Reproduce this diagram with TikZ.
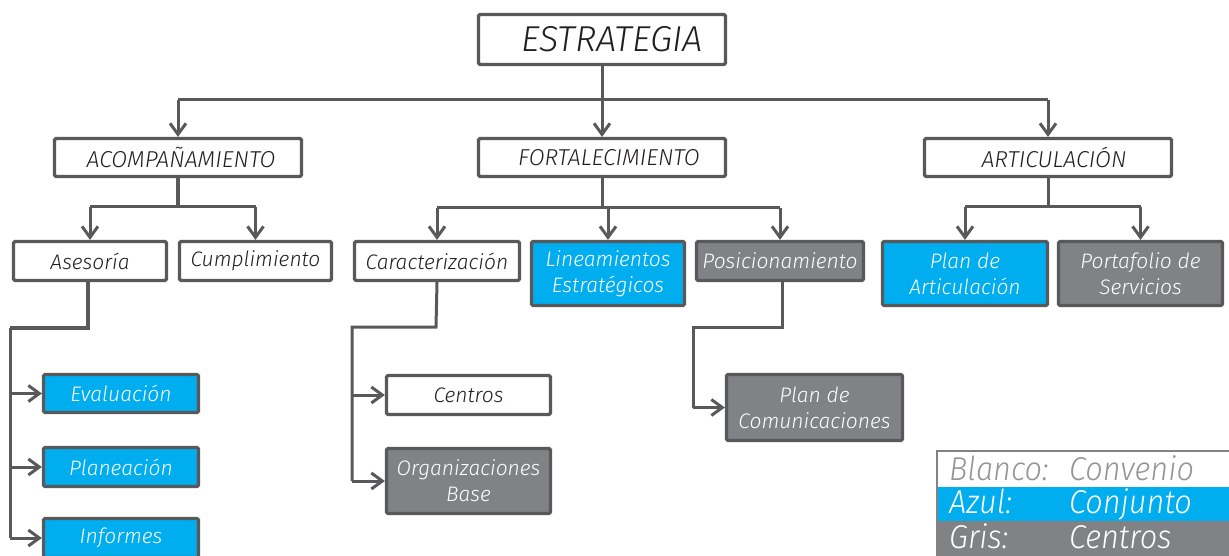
\documentclass[tikz,border=0pt]{standalone}
\usepackage{fontspec}
\setmainfont{Fira Sans}[UprightFont=* Light, ItalicFont=* Light Italic]
\newfontfamily\legfont{Fira Sans Light Italic}[FakeStretch=0.93]
\usetikzlibrary{arrows.meta}
\definecolor{lnc}{HTML}{58595B}
\definecolor{gfill}{HTML}{808285}
\definecolor{bfill}{HTML}{00AEEF}
\definecolor{txt}{HTML}{231F20}
\definecolor{legtxt}{HTML}{939598}
\tikzset{
  box/.style={draw=lnc, line width=3.2pt, rounded corners=1.5pt, inner sep=0pt, align=center,
    font=\itshape\fontsize{21}{26}\selectfont, text=txt, fill=white},
  wbox/.style={box},
  bbox/.style={box, fill=bfill, text=white},
  gbox/.style={box, fill=gfill, text=white},
  conn/.style={draw=lnc, line width=3pt},
  arr/.style={conn, -{Straight Barb[length=11pt,width=16pt]}},
  legtext/.style={anchor=base west, inner sep=0pt, font=\legfont\fontsize{33}{36}\selectfont},
}
\begin{document}
\begin{tikzpicture}[x=1pt,y=-1pt]
\useasboundingbox (0,0) rectangle (1229,556);
% top
\node[wbox, minimum width=247pt, minimum height=50pt, font=\itshape\fontsize{36}{40}\selectfont] (E) at (602,39.5) {\hspace*{20pt}ESTRATEGIA};
\node[wbox, minimum width=247pt, minimum height=38pt, font=\itshape\fontsize{23}{27}\selectfont] (A1) at (178,157.5) {\hspace*{6pt}ACOMPAÑAMIENTO};
\node[wbox, minimum width=247pt, minimum height=38pt, font=\itshape\fontsize{23}{27}\selectfont] (F1) at (602,157.5) {\hspace*{14pt}FORTALECIMIENTO};
\node[wbox, minimum width=247pt, minimum height=38pt, font=\itshape\fontsize{23}{27}\selectfont] (R1) at (1048,157.5) {\hspace*{12pt}ARTICULACIÓN};
% second level
\node[wbox, minimum width=153pt, minimum height=39pt] (As) at (90,261) {Asesoría};
\node[wbox, minimum width=152pt, minimum height=39pt] (Cu) at (255.5,261) {Cumplimiento};
\node[wbox, minimum width=165pt, minimum height=39pt] (Ca) at (437,261) {Caracterización};
\node[bbox, minimum width=153pt, minimum height=64pt] (Li) at (608,273.5) {Lineamientos\\Estratégicos};
\node[gbox, minimum width=167pt, minimum height=39pt] (Po) at (780,261) {Posicionamiento};
\node[bbox, minimum width=165pt, minimum height=64pt] (PA) at (965,273.5) {Plan de\\Articulación};
\node[gbox, minimum width=164pt, minimum height=64pt] (PS) at (1140.5,273.5) {Portafolio de\\Servicios};
% third level
\node[bbox, minimum width=155pt, minimum height=38pt] (Ev) at (121,393.5) {Evaluación};
\node[bbox, minimum width=155pt, minimum height=39pt] (Pl) at (121,467) {Planeación};
\node[bbox, minimum width=155pt, minimum height=39pt] (In) at (121,538) {Informes};
\node[wbox, minimum width=164pt, minimum height=39pt] (Ce) at (468.5,395) {Centros};
\node[gbox, minimum width=164pt, minimum height=65pt] (Or) at (468.5,481) {Organizaciones\\Base};
\node[gbox, minimum width=176pt, minimum height=66pt] (PC) at (814.5,407.5) {Plan de\\Comunicaciones};
% connectors top
\coordinate (t1) at (602,100);
\draw[conn] (E.south) -- (t1);
\draw[conn] (A1.north |- t1) -- (R1.north |- t1);
\draw[arr] (A1.north |- t1) -- (A1.north);
\draw[arr] (t1) -- (F1.north);
\draw[arr] (R1.north |- t1) -- (R1.north);
% acompanamiento
\coordinate (t2) at (178,207);
\draw[conn, line width=4pt] (A1.south) -- (t2);
\draw[conn] (As.north |- t2) -- (Cu.north |- t2);
\draw[arr] (As.north |- t2) -- (As.north);
\draw[arr] (Cu.north |- t2) -- (Cu.north);
% fortalecimiento
\coordinate (t3) at (602,208);
\draw[conn] (F1.south) -- (t3);
\draw[conn] (Ca.north |- t3) -- (Po.north |- t3);
\draw[arr] (Ca.north |- t3) -- (Ca.north);
\draw[arr] (Li.north |- t3) -- (Li.north);
\draw[arr] (Po.north |- t3) -- (Po.north);
% articulacion
\coordinate (t4) at (1048,207);
\draw[conn] (R1.south) -- (t4);
\draw[conn] (PA.north |- t4) -- (PS.north |- t4);
\draw[arr] (PA.north |- t4) -- (PA.north);
\draw[arr] (PS.north |- t4) -- (PS.north);
% asesoria branch
\coordinate (a0) at (88,282);
\coordinate (a1) at (88,328);
\coordinate (a2) at (10,328);
\draw[conn, line width=4pt] (a0) -- (a1) -- (a2);
\draw[conn] (a2) -- (a2 |- In.west);
\draw[arr] (a2 |- Ev.west) -- (Ev.west);
\draw[arr] (a2 |- Pl.west) -- (Pl.west);
\draw[arr] (a2 |- In.west) -- (In.west);
% caracterizacion branch
\coordinate (c1) at (436,327);
\coordinate (c2) at (352,327);
\draw[conn] (Ca.south) -- (c1) -- (c2) -- (c2 |- Or.west);
\draw[arr] (c2 |- Ce.west) -- (Ce.west);
\draw[arr] (c2 |- Or.west) -- (Or.west);
% posicionamiento branch
\coordinate (p0) at (782,282);
\coordinate (p1) at (782,327);
\coordinate (p2) at (693,327);
\draw[conn] (p0) -- (p1) -- (p2) -- (p2 |- PC.west);
\draw[arr] (p2 |- PC.west) -- (PC.west);
% legend
\fill[white] (936,450) rectangle (1229,487);
\fill[bfill] (936,487) rectangle (1229,521);
\fill[gfill] (936,521) rectangle (1229,556);
\draw[gfill, line width=2pt] (937,556) -- (937,451) -- (1229,451);
\node[legtext, text=legtxt] (L1) at (949,480) {Blanco:};
\node[legtext, text=legtxt] (L2) at (1069,480) {Convenio};
\node[legtext, text=white] (L3) at (949,513) {Azul:};
\node[legtext, text=white] (L4) at (1069,513) {Conjunto};
\node[legtext, text=white] (L5) at (949,548) {Gris:};
\node[legtext, text=white] (L6) at (1069,548) {Centros};
\end{tikzpicture}
\end{document}
